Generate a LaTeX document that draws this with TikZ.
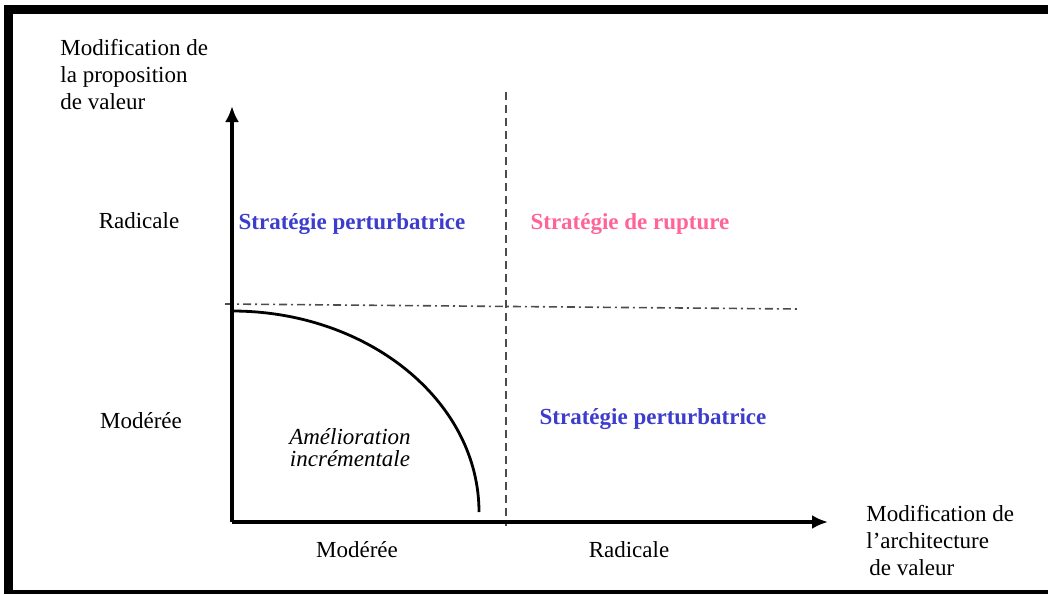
\documentclass[tikz,border=0pt]{standalone}
\usepackage{fontspec}
\setmainfont{Liberation Serif}
\usetikzlibrary{arrows.meta}
\definecolor{stratblue}{RGB}{60,60,205}
\definecolor{stratpink}{RGB}{255,100,150}

\begin{document}
\begin{tikzpicture}[x=0.5pt,y=-0.5pt,
  every node/.style={inner sep=0pt,font=\fontsize{11.5}{13.5}\selectfont},
  axis/.style={line width=1.8pt,-{Latex[length=8pt,width=7pt]}},
  strat/.style={font=\fontsize{11.5}{13.5}\selectfont\bfseries},
  sep/.style={line width=0.8pt,color=black!70}]
\useasboundingbox (0,0) rectangle (1048,594);
% cadre
\fill (4,5) rectangle (1048,14);
\fill (4,5) rectangle (13,594);
\fill (4,590) rectangle (1048,594);

\coordinate (o) at (232,522);
\coordinate (ytop) at (232,106);
\coordinate (xend) at (828,522);
\coordinate (vtop) at (506,92);
\coordinate (vbot) at (506,526);
\coordinate (hl) at (225,304);
\coordinate (hr) at (800,309);
\coordinate (c0) at (232,311);
\coordinate (c1) at (479,512);

\draw[sep,dash pattern=on 4pt off 2.5pt] (vtop)--(vbot);
\draw[sep,dash pattern=on 4pt off 2pt on 1pt off 2pt] (hl)--(hr);
\draw[axis] (o)--(ytop);
\draw[axis] (o)--(xend);
\draw[line width=1.4pt] (c0) .. controls (368,311) and (479,401) .. (c1);

\node[anchor=west,align=left](ylab) at (60,75) {Modification de\\la proposition\\de valeur};
\node[anchor=west,align=left](xlab) at (866,541) {Modification de\\l'architecture\\\hspace{1.5pt}de valeur};

\node(yrad) at (139,221) {Radicale};
\node(ymod) at (141,421) {Modérée};
\node(xmod) at (357,550) {Modérée};
\node(xrad) at (629,550) {Radicale};

\node[strat,stratblue](pert1) at (352,224) {Stratégie perturbatrice};
\node[strat,stratpink](rupt) at (630,224) {Stratégie de rupture};
\node[strat,stratblue](pert2) at (653,419) {Stratégie perturbatrice};
\node[align=center,font=\fontsize{11.5}{11}\selectfont\itshape](amel) at (350,448) {Amélioration\\incrémentale};
\end{tikzpicture}
\end{document}
